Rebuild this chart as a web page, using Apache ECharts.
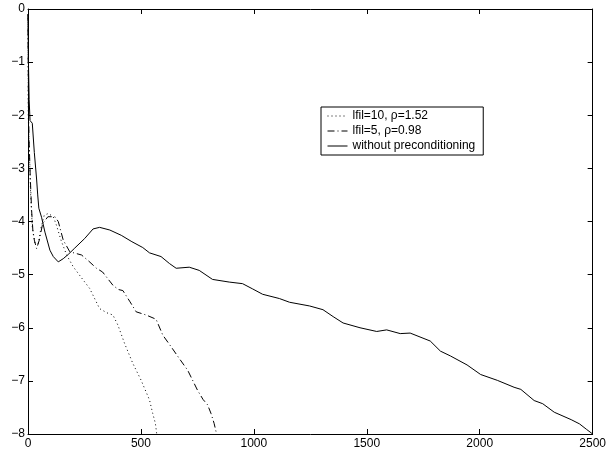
<!DOCTYPE html>
<html>
<head>
<meta charset="utf-8">
<script src="https://cdn.jsdelivr.net/npm/echarts@6/dist/echarts.min.js"></script>
<style>
  html, body { margin: 0; padding: 0; background: #fff; }
  #chart { width: 609px; height: 451px; }
</style>
</head>
<body>
<div id="chart"></div>
<script>
// iterations / log10 residual
var xTicks = [0, 500, 1000, 1500, 2000, 2500];
var yTicks = [-8, -7, -6, -5, -4, -3, -2, -1, 0];

var fil10Iter = [0, 1, 7, 12, 19, 31, 46, 57, 72, 90, 112, 126, 146, 171, 200, 244, 273, 317, 350, 376, 398, 428, 464, 501, 538, 552, 564, 570];
var fil10Res = [-0.1, -2.0, -2.84, -3.53, -4.1, -4.41, -4.41, -4.13, -3.88, -3.85, -3.91, -4.07, -4.35, -4.63, -4.85, -5.1, -5.26, -5.64, -5.72, -5.76, -5.95, -6.3, -6.67, -6.99, -7.36, -7.61, -7.8, -8.0];

var fil5Iter = [0, 2, 5, 10, 16, 22, 28, 38, 50, 65, 88, 119, 134, 156, 185, 237, 270, 303, 330, 376, 400, 420, 450, 479, 523, 567, 597, 634, 670, 707, 751, 775, 795, 810, 824, 835];
var fil5Res = [-0.1, -1.9, -2.5, -3.16, -3.79, -4.2, -4.35, -4.51, -4.35, -4.04, -3.91, -3.91, -4.0, -4.35, -4.57, -4.63, -4.75, -4.88, -4.95, -5.2, -5.28, -5.3, -5.5, -5.7, -5.76, -5.84, -6.14, -6.36, -6.58, -6.8, -7.18, -7.35, -7.45, -7.61, -7.8, -8.0];

var plainIter = [0, 2, 5, 9, 19, 28, 38, 43, 48, 60, 75, 97, 112, 134, 156, 178, 207, 251, 288, 317, 362, 413, 460, 508, 538, 589, 626, 656, 714, 758, 817, 891, 950, 995, 1039, 1113, 1158, 1247, 1306, 1351, 1395, 1470, 1544, 1588, 1648, 1692, 1781, 1826, 1870, 1944, 2004, 2078, 2152, 2182, 2241, 2279, 2330, 2405, 2442, 2472, 2500];
var plainRes = [-0.1, -1.0, -1.7, -2.1, -2.15, -2.7, -3.2, -3.5, -3.75, -3.92, -4.2, -4.54, -4.66, -4.76, -4.7, -4.62, -4.5, -4.32, -4.14, -4.11, -4.16, -4.26, -4.38, -4.49, -4.59, -4.66, -4.79, -4.88, -4.86, -4.92, -5.09, -5.14, -5.17, -5.27, -5.37, -5.45, -5.52, -5.59, -5.66, -5.79, -5.91, -6.0, -6.07, -6.04, -6.11, -6.1, -6.25, -6.44, -6.53, -6.7, -6.88, -6.99, -7.12, -7.16, -7.37, -7.43, -7.59, -7.73, -7.81, -7.91, -8.0];

var names = ['lfil=10, \u03c1=1.52', 'lfil=5, \u03c1=0.98', 'without preconditioning'];

function pairs(xs, ys) {
  var out = [];
  for (var i = 0; i < xs.length; i++) out.push([xs[i], ys[i]]);
  return out;
}

var font = "'Liberation Sans', Arial, sans-serif";

function fmt(v) { return String(v).replace('-', '\u2212'); }

function xAx(pos, show) {
  return {
    type: 'value', position: pos, min: xTicks[0], max: xTicks[xTicks.length - 1], interval: 500,
    axisLine: { show: true, onZero: false, lineStyle: { color: '#000', width: 1 } },
    axisTick: { show: true, inside: true, length: 5, lineStyle: { color: '#000' } },
    axisLabel: { show: show, color: '#000', fontSize: 12, fontFamily: font, margin: 4, formatter: fmt },
    splitLine: { show: false }
  };
}
function yAx(pos, show) {
  return {
    type: 'value', position: pos, min: yTicks[0], max: yTicks[yTicks.length - 1], interval: 1,
    axisLine: { show: true, onZero: false, lineStyle: { color: '#000', width: 1 } },
    axisTick: { show: true, inside: true, length: 5, lineStyle: { color: '#000' } },
    axisLabel: { show: show, color: '#000', fontSize: 12, fontFamily: font, margin: 3, formatter: fmt },
    splitLine: { show: false }
  };
}

function line(name, data, dash) {
  return {
    name: name, type: 'line', data: data, symbol: 'none', showSymbol: false,
    xAxisIndex: 0, yAxisIndex: 0,
    lineStyle: { color: '#000', width: 1, type: dash },
    itemStyle: { color: '#000' }
  };
}

var chart = echarts.init(document.getElementById('chart'));
chart.setOption({
  animation: false,
  backgroundColor: '#fff',
  grid: { left: 28, right: 14, top: 9, bottom: 17 },
  xAxis: [xAx('bottom', true), xAx('top', false)],
  yAxis: [yAx('left', true), yAx('right', false)],
  legend: {
    data: names,
    orient: 'vertical',
    left: 321, top: 107,
    itemWidth: 20, itemHeight: 10, itemGap: 3,
    padding: [3, 8, 3, 6],
    borderColor: '#000', borderWidth: 1, borderRadius: 0,
    backgroundColor: '#fff',
    itemStyle: { opacity: 0 },
    lineStyle: { width: 1 },
    textStyle: { color: '#000', fontSize: 12, fontFamily: font }
  },
  series: [
    line(names[0], pairs(fil10Iter, fil10Res), [1, 3]),
    line(names[1], pairs(fil5Iter, fil5Res), [7, 3, 1, 3]),
    line(names[2], pairs(plainIter, plainRes), 'solid')
  ]
});
</script>
</body>
</html>
